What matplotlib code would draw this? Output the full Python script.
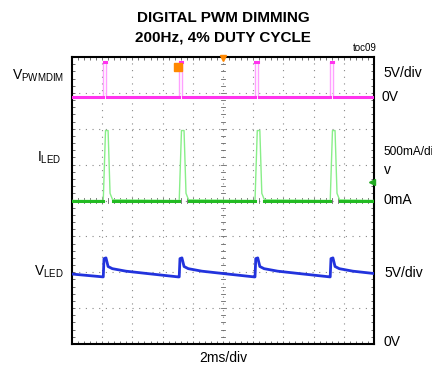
import numpy as np
import matplotlib
matplotlib.use("Agg")
from matplotlib import pyplot as plt

plt.rcParams['font.family'] = ['Liberation Sans', 'DejaVu Sans']

# time axis: 2ms/div, 10 divisions; vertical: 8 divisions
pulse_starts = [2.07, 7.1, 12.12, 17.1]   # ms
pwm_low, pwm_high = 6.88, 7.85           # div
pwm_width = 0.2                          # ms

# I_LED pulse shape (offset ms, level div)
led_i_t = [0.0, 0.15, 0.32, 0.45, 0.62]
led_i_v = [4.0, 5.95, 5.95, 4.2, 4.02]
led_i_base = 4.0

# V_LED shape after each rising edge (offset ms, level div)
led_v_t = [0.0, 0.05, 0.18, 0.32, 0.6, 1.5, 3.0, 4.97]
led_v_v = [1.88, 2.38, 2.40, 2.16, 2.10, 2.03, 1.96, 1.87]
led_v_start = 1.95


def build_pwm():
    t, v = [0.0], [pwm_low]
    for s in pulse_starts:
        t += [s, s, s + pwm_width, s + pwm_width]
        v += [pwm_low, pwm_high, pwm_high, pwm_low]
    t.append(20.0); v.append(pwm_low)
    return t, v


def build_iled():
    t, v = [0.0], [led_i_base]
    for s in pulse_starts:
        t += [s + o for o in led_i_t]
        v += led_i_v
    t.append(20.0); v.append(led_i_base)
    return t, v


def build_vled():
    t, v = [0.0], [led_v_start]
    for s in pulse_starts:
        t.append(s); v.append(led_v_v[-1])
        t += [s + o for o in led_v_t[1:]]
        v += led_v_v[1:]
    t = np.array(t); v = np.array(v)
    keep = t <= 20.0
    t, v = list(t[keep]), list(v[keep])
    # last segment running off the screen
    s = pulse_starts[-1]
    t.append(20.0); v.append(float(np.interp(20.0 - s, led_v_t, led_v_v)))
    return t, v


fig = plt.figure(figsize=(4.32, 3.70), dpi=100)
ax = fig.add_axes([72/432, 26/370, 302/432, 287/370])
ax.set_xlim(0, 20)
ax.set_ylim(0, 8)

# grid
for gx in np.arange(2, 20, 2):
    ax.plot([gx, gx], [0, 8], color="#888888", lw=0.8, ls=(0, (1, 5)), zorder=1)
for gy in range(1, 8):
    ax.plot([0, 20], [gy, gy], color="#888888", lw=0.8, ls=(0, (1, 5)), zorder=1)
# center-line ticks
for ty in np.arange(0, 8.01, 0.2):
    ax.plot([9.85, 10.15], [ty, ty], color="#666666", lw=0.6, zorder=1)
for tx in np.arange(0, 20.01, 0.4):
    ax.plot([tx, tx], [3.93, 4.07], color="#666666", lw=0.6, zorder=1)

ax.set_xticks(np.arange(0, 20.01, 0.4), minor=True)
ax.set_yticks(np.arange(0, 8.01, 0.2), minor=True)
ax.set_xticks([]); ax.set_yticks([])
ax.tick_params(which="minor", direction="in", length=2.5, width=0.6, color="#555555",
               top=True, right=True, labelbottom=False, labelleft=False)
for sp in ax.spines.values():
    sp.set_linewidth(1.5)

# traces
t, v = build_pwm()
ax.plot(t, v, color="#ffa0ff", lw=1.0, zorder=3)
for i in range(len(pulse_starts) + 1):
    a = 0.0 if i == 0 else pulse_starts[i-1] + pwm_width + 0.08
    b = 20.0 if i == len(pulse_starts) else pulse_starts[i] - 0.03
    ax.plot([a, b], [pwm_low, pwm_low], color="#ff33ee", lw=2.2, zorder=4)
for s in pulse_starts:
    ax.plot([s + 0.03, s + pwm_width - 0.03], [pwm_high, pwm_high], color="#ff33ee", lw=2.2, zorder=4)

t, v = build_iled()
ax.plot(t, v, color="#88ee88", lw=1.0, zorder=3)
for i in range(len(pulse_starts) + 1):
    a = 0.0 if i == 0 else pulse_starts[i-1] + led_i_t[-1]
    b = 20.0 if i == len(pulse_starts) else pulse_starts[i] - 0.03
    ax.plot([a, b], [led_i_base, led_i_base], color="#22bb22", lw=2.2, zorder=4)

t, v = build_vled()
ax.plot(t, v, color="#2233dd", lw=2.0, zorder=4)

# markers
ax.plot([7.02], [7.72], marker="s", color="#ff8800", ms=6, zorder=5, clip_on=False)
ax.plot([10], [7.98], marker="v", color="#ff8800", ms=4, zorder=5, clip_on=False)
ax.plot([19.85], [4.51], marker="<", color="#22aa22", ms=4, zorder=5, clip_on=False)

# text
fig.text(223/432, 1 - 18/370, "DIGITAL PWM DIMMING", ha="center", va="center",
         fontsize=11, fontweight="bold")
fig.text(223/432, 1 - 38/370, "200Hz, 4% DUTY CYCLE", ha="center", va="center",
         fontsize=11, fontweight="bold")
fig.text(377/432, 1 - 48/370, "toc09", ha="right", va="center", fontsize=7)

fs = 10
fig.text(12/432, 1 - 76/370, r"V$_{\mathregular{PWMDIM}}$", ha="left", va="center", fontsize=fs)
fig.text(37/432, 1 - 158/370, r"I$_{\mathregular{LED}}$", ha="left", va="center", fontsize=fs)
fig.text(34/432, 1 - 272/370, r"V$_{\mathregular{LED}}$", ha="left", va="center", fontsize=fs)

fig.text(383/432, 1 - 73/370, "5V/div", ha="left", va="center", fontsize=fs)
fig.text(382/432, 1 - 97/370, "0V", ha="left", va="center", fontsize=fs)
fig.text(383/432, 1 - 152/370, "500mA/di", ha="left", va="center", fontsize=8.6)
fig.text(384/432, 1 - 170/370, "v", ha="left", va="center", fontsize=fs)
fig.text(384/432, 1 - 200/370, "0mA", ha="left", va="center", fontsize=fs)
fig.text(384/432, 1 - 273/370, "5V/div", ha="left", va="center", fontsize=fs)
fig.text(384/432, 1 - 342/370, "0V", ha="left", va="center", fontsize=fs)
fig.text(223/432, 1 - 358/370, "2ms/div", ha="center", va="center", fontsize=fs)

fig.savefig("out.png", dpi=100)
